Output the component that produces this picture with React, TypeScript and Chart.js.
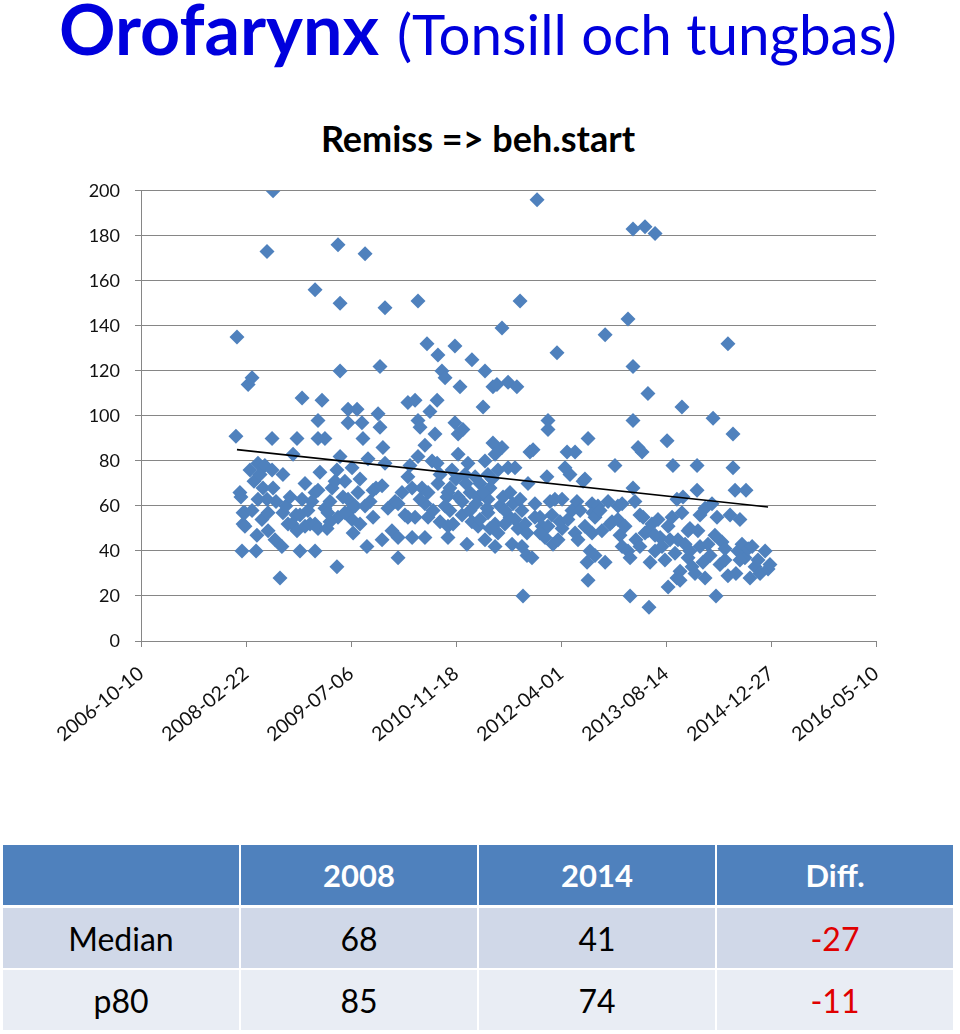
import React, { useEffect, useRef } from 'react';
import { Chart, registerables } from 'chart.js';

Chart.register(...registerables);

// X axis: Excel date serials (days). 39000 = 2006-10-10, tick every 500 days.
const xTickLabels = ['2006-10-10', '2008-02-22', '2009-07-06', '2010-11-18', '2012-04-01', '2013-08-14', '2014-12-27', '2016-05-10'];
const xStart = 39000;
const xStepDays = 500;
const yMax = 200;
const yStep = 20;

// Referral date (Excel serial) of each patient
const referralDate = [
  39452, 39457, 39471, 39476, 39481, 39486, 39486, 39495, 39495, 39510,
  39519, 39529, 39529, 39538, 39548, 39552, 39557, 39557, 39567, 39576,
  39581, 39590, 39600, 39600, 39605, 39605, 39624, 39624, 39629, 39629,
  39638, 39643, 39662, 39671, 39676, 39676, 39690, 39700, 39719, 39724,
  39738, 39743, 39743, 39757, 39767, 39767, 39781, 39781, 39795, 39805,
  39814, 39829, 39829, 39829, 39829, 39843, 39843, 39843, 39843, 39852,
  39862, 39876, 39876, 39886, 39890, 39900, 39910, 39924, 39933, 39933,
  39938, 39938, 39948, 39948, 39948, 39962, 39971, 39986, 39986, 39986,
  39995, 40005, 40005, 40010, 40019, 40029, 40033, 40043, 40052, 40057,
  40067, 40076, 40081, 40091, 40105, 40105, 40119, 40129, 40138, 40138,
  40148, 40148, 40152, 40162, 40162, 40176, 40195, 40210, 40224, 40224,
  40224, 40243, 40257, 40271, 40271, 40271, 40281, 40291, 40291, 40305,
  40305, 40319, 40319, 40319, 40329, 40338, 40352, 40352, 40352, 40362,
  40367, 40376, 40386, 40400, 40410, 40410, 40414, 40414, 40424, 40433,
  40448, 40457, 40462, 40462, 40462, 40471, 40481, 40495, 40495, 40500,
  40510, 40510, 40510, 40519, 40529, 40533, 40543, 40552, 40557, 40567,
  40576, 40576, 40591, 40605, 40605, 40614, 40629, 40638, 40638, 40638,
  40652, 40652, 40652, 40662, 40676, 40676, 40686, 40686, 40686, 40695,
  40700, 40700, 40710, 40719, 40719, 40724, 40733, 40748, 40748, 40757,
  40767, 40771, 40781, 40790, 40795, 40805, 40814, 40814, 40819, 40829,
  40838, 40843, 40852, 40862, 40867, 40876, 40886, 40900, 40910, 40924,
  40933, 40938, 40938, 40938, 40948, 40962, 40971, 40981, 40986, 41005,
  41005, 41019, 41029, 41043, 41052, 41067, 41067, 41076, 41081, 41091,
  41105, 41114, 41114, 41124, 41129, 41129, 41138, 41148, 41148, 41152,
  41162, 41162, 41176, 41186, 41195, 41210, 41210, 41224, 41243, 41257,
  41271, 41271, 41281, 41291, 41291, 41305, 41319, 41319, 41329, 41329,
  41343, 41343, 41343, 41343, 41352, 41357, 41367, 41376, 41386, 41391,
  41400, 41400, 41414, 41414, 41419, 41424, 41433, 41448, 41448, 41462,
  41472, 41481, 41495, 41505, 41510, 41510, 41519, 41529, 41533, 41543,
  41552, 41552, 41557, 41567, 41567, 41576, 41576, 41581, 41591, 41605,
  41605, 41614, 41624, 41638, 41648, 41648, 41652, 41662, 41676, 41686,
  41686, 41700, 41710, 41719, 41724, 41733, 41738, 41743, 41757, 41767,
  41781, 41795, 41795, 41805, 41819, 41819, 41829, 41833, 41843, 41852,
  41862, 41876, 41881, 41891, 41900, 41910, 41924, 41938, 41948, 41972, 41986, 41995,
  40329, 40367, 40391, 40424, 40448, 40471, 40486, 40529, 40548, 40567,
  40595, 40614, 40629, 40648, 40662, 40672, 40733, 40757, 40781, 40805,
  40838, 40876, 40900, 40957, 40995, 41033, 39900, 39971, 40043, 40067,
  39757, 39710, 41233, 41376, 41448, 41614, 41662, 41781, 41852,
];

// Days from referral to start of treatment
const waitDays = [
  91, 135, 66, 64, 40, 57, 52, 51, 57, 114,
  76, 117, 58, 71, 40, 47, 63, 79, 74, 54,
  68, 78, 173, 63, 57, 49, 90, 76, 200, 68,
  45, 62, 28, 42, 74, 57, 60, 52, 52, 83,
  56, 90, 49, 40, 108, 63, 70, 51, 58, 52,
  62, 156, 66, 52, 40, 98, 90, 67, 50, 75,
  107, 90, 59, 50, 57, 62, 68, 71, 76, 33,
  176, 55, 150, 120, 82, 64, 71, 103, 97, 63,
  58, 77, 54, 48, 60, 103, 66, 72, 97, 90,
  172, 42, 81, 62, 67, 55, 68, 101, 122, 95,
  69, 45, 86, 148, 79, 59, 49, 62, 61, 46,
  37, 66, 56, 106, 73, 55, 78, 68, 46, 107,
  55, 151, 98, 82, 95, 68, 87, 61, 46, 132,
  55, 102, 80, 92, 107, 79, 127, 70, 53, 120,
  117, 64, 66, 51, 46, 58, 76, 131, 97, 72,
  92, 83, 64, 113, 56, 94, 74, 43, 79, 66,
  125, 53, 73, 64, 51, 70, 104, 120, 80, 45,
  74, 57, 63, 68, 113, 88, 83, 52, 42, 114,
  76, 48, 60, 139, 86, 64, 52, 77, 115, 55,
  43, 61, 77, 113, 50, 151, 58, 42, 20, 52,
  38, 70, 84, 37, 85, 61, 196, 55, 51, 46,
  73, 98, 94, 51, 62, 43, 63, 128, 45, 63,
  50, 77, 84, 74, 58, 84, 48, 62, 45, 58,
  71, 72, 51, 35, 90, 27, 40, 61, 48, 57,
  55, 38, 60, 58, 49, 136, 35, 62, 53, 78,
  54, 60, 47, 61, 42, 51, 143, 40, 20, 37,
  183, 122, 98, 68, 62, 45, 86, 56, 84, 55,
  184, 48, 110, 49, 15, 35, 52, 181, 40, 54,
  46, 42, 36, 89, 51, 24, 45, 55, 78, 39,
  28, 63, 45, 31, 27, 104, 57, 64, 43, 49,
  37, 40, 33, 30, 78, 67, 49, 42, 35, 59,
  28, 43, 38, 61, 99, 47, 20, 55, 34, 44,
  36, 132, 29, 56, 92, 77, 67, 30, 40, 54,
  43, 37, 67, 41, 28, 42, 33, 36, 30, 40, 32, 34,
  63, 66, 58, 74, 60, 68, 52, 62, 70, 58,
  61, 54, 66, 59, 50, 72, 58, 66, 54, 63,
  48, 55, 48, 56, 53, 54, 53, 57, 52, 60,
  56, 64, 52, 42, 47, 50, 56, 41, 36,
];

// Linear trend line end points
const trendDate = [39457, 41986];
const trendDays = [85, 59.5];

// Summary table
const tableHeader = ['', '2008', '2014', 'Diff.'];
const rowLabels = ['Median', 'p80'];
const values2008 = [68, 85];
const values2014 = [41, 74];
const diffs = [-27, -11];

const FONT = 'Lato, "Open Sans", sans-serif';

function ScatterChart() {
  const ref = useRef<HTMLCanvasElement | null>(null);
  useEffect(() => {
    if (!ref.current) return;
    const chart = new Chart(ref.current, {
      type: 'scatter',
      data: {
        datasets: [
          {
            type: 'line',
            data: trendDate.map((x, i) => ({ x, y: trendDays[i] })),
            borderColor: '#000000',
            borderWidth: 1.6,
            pointRadius: 0,
            showLine: true,
            fill: false,
            order: 0,
          } as any,
          {
            data: referralDate.map((x, i) => ({ x, y: waitDays[i] })),
            pointStyle: 'rectRot',
            pointRadius: 7.5,
            pointHoverRadius: 7.5,
            backgroundColor: '#4F81BD',
            borderColor: '#4F81BD',
            borderWidth: 0,
            order: 1,
          },
        ],
      },
      options: {
        animation: false,
        responsive: false,
        maintainAspectRatio: false,
        layout: { padding: { top: 20, right: 84, left: 0, bottom: 0 } },
        plugins: { legend: { display: false }, tooltip: { enabled: false }, title: { display: false } },
        scales: {
          x: {
            type: 'linear',
            min: xStart,
            max: xStart + xStepDays * (xTickLabels.length - 1),
            afterBuildTicks: (s: any) => {
              s.ticks = xTickLabels.map((_, i) => ({ value: xStart + i * xStepDays }));
            },
            ticks: {
              autoSkip: false,
              minRotation: 39,
              maxRotation: 39,
              padding: 15,
              color: '#111',
              font: { family: FONT, size: 19.5 },
              callback: (v: any) => xTickLabels[Math.round((Number(v) - xStart) / xStepDays)] ?? '',
            },
            grid: { drawOnChartArea: false, tickLength: 6, color: '#868686', lineWidth: 1 },
            border: { color: '#868686', width: 1 },
            afterFit: (s: any) => { s.height = 119; },
          },
          y: {
            min: 0,
            max: yMax,
            ticks: { stepSize: yStep, padding: 15, color: '#111', font: { family: FONT, size: 18 } },
            grid: { color: '#868686', drawTicks: true, tickLength: 6, lineWidth: 1 },
            border: { display: true, color: '#868686', width: 1 },
            afterFit: (s: any) => { s.width = 141; },
          },
        },
      },
    });
    return () => chart.destroy();
  }, []);
  return (
    <canvas
      ref={ref}
      width={960}
      height={595}
      style={{ position: 'absolute', left: 0, top: 165, width: 960, height: 595 }}
    />
  );
}

const cellBase: React.CSSProperties = {
  position: 'absolute',
  display: 'flex',
  alignItems: 'center',
  justifyContent: 'center',
  fontFamily: FONT,
};

function SummaryTable() {
  const colLeft = [3, 241, 479, 717];
  const colWidth = 236;
  const rowTop = [845, 908, 970];
  const rowHeight = 60;
  const rowBg = ['#D0D8E8', '#E9EDF4'];
  const cells: React.ReactNode[] = [];
  tableHeader.forEach((h, c) => {
    cells.push(
      <div key={'h' + c} style={{ ...cellBase, left: colLeft[c], top: rowTop[0], width: colWidth, height: rowHeight, background: '#4F81BD', color: '#fff', fontWeight: 700, fontSize: 31 }}>
        {h}
      </div>
    );
  });
  rowLabels.forEach((lab, r) => {
    const vals = [lab, String(values2008[r]), String(values2014[r]), String(diffs[r])];
    vals.forEach((v, c) => {
      cells.push(
        <div key={'r' + r + 'c' + c} style={{ ...cellBase, left: colLeft[c], top: rowTop[r + 1], width: colWidth, height: rowHeight, background: rowBg[r], color: c === 3 ? '#E00000' : '#000', fontSize: 32 }}>
          {v}
        </div>
      );
    });
  });
  return <>{cells}</>;
}

export default function App() {
  return (
    <div style={{ position: 'absolute', left: 0, top: 0, width: 960, height: 1034, background: '#fff', overflow: 'hidden' }}>
      <div style={{ position: 'absolute', left: 59, top: -12, whiteSpace: 'nowrap', color: '#0000DD', fontFamily: FONT, lineHeight: '80px' }}>
        <span style={{ fontWeight: 700, fontSize: 70 }}>Orofarynx</span>
        <span style={{ fontWeight: 400, fontSize: 56.5, marginLeft: 18 }}>(Tonsill och tungbas)</span>
      </div>
      <div style={{ position: 'absolute', left: 0, top: 115, width: 956, textAlign: 'center', fontFamily: FONT, fontWeight: 700, fontSize: 36, color: '#000', lineHeight: '46px' }}>
        Remiss =&gt; beh.start
      </div>
      <ScatterChart />
      <SummaryTable />
    </div>
  );
}
